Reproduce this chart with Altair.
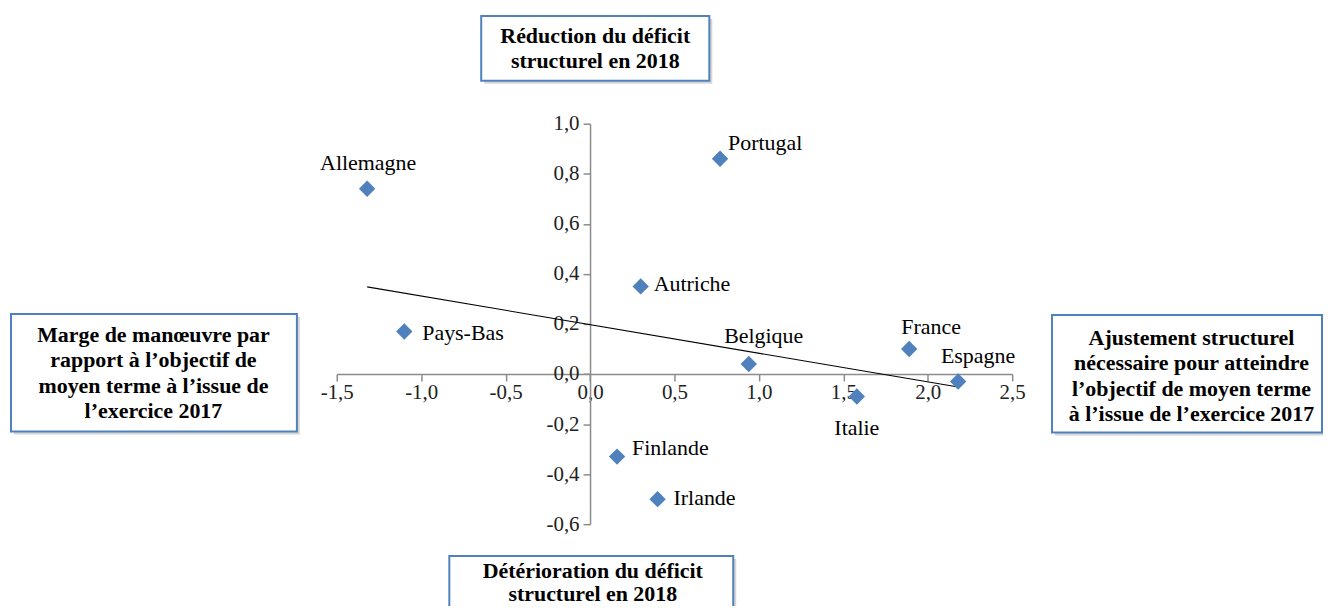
import altair as alt
import pandas as pd

# ---- data ----
countries = ["Allemagne", "Portugal", "Autriche", "Pays-Bas", "Belgique",
             "France", "Espagne", "Italie", "Finlande", "Irlande"]
x_vals = [-1.32, 0.77, 0.30, -1.10, 0.94, 1.89, 2.18, 1.58, 0.16, 0.40]
y_vals = [0.74, 0.86, 0.35, 0.17, 0.04, 0.10, -0.03, -0.09, -0.33, -0.50]

x_ticks = [-1.5, -1.0, -0.5, 0.0, 0.5, 1.0, 1.5, 2.0, 2.5]
y_ticks = [-0.6, -0.4, -0.2, 0.0, 0.2, 0.4, 0.6, 0.8, 1.0]

box_top = ["Réduction du déficit", "structurel en 2018"]
box_bottom = ["Détérioration du déficit", "structurel en 2018"]
box_left = ["Marge de manœuvre par", "rapport à l’objectif de",
            "moyen terme à l’issue de", "l’exercice 2017"]
box_right = ["Ajustement structurel", "nécessaire pour atteindre",
             "l’objectif de moyen terme", "à l’issue de l’exercice 2017"]

df = pd.DataFrame({"pays": countries, "x": x_vals, "y": y_vals})

# ---- layout / style ----
W, H = 678, 402
FONT = "Liberation Serif"
BLUE = "#4F81BD"
AXIS_GREY = "#8C8C8C"
X_DOM = [x_ticks[0], x_ticks[-1]]
Y_DOM = [y_ticks[0], y_ticks[-1]]

fmt = "(datum.value < 0 ? '-' : '') + replace(format(abs(datum.value), '.1f'), '.', ',')"

xscale = alt.Scale(domain=X_DOM, nice=False, zero=False)
yscale = alt.Scale(domain=Y_DOM, nice=False, zero=False)

x_off = -W * (0 - X_DOM[0]) / (X_DOM[1] - X_DOM[0])
y_off = -H * (0 - Y_DOM[0]) / (Y_DOM[1] - Y_DOM[0])

x_axis = alt.Axis(values=x_ticks, labelExpr=fmt, offset=y_off, grid=False,
                  domainColor=AXIS_GREY, domainWidth=1.5, tickColor=AXIS_GREY,
                  tickWidth=1.5, tickSize=7, labelFont=FONT, labelFontSize=21,
                  labelColor="#222222", labelPadding=1, labelFlush=False,
                  labelOverlap=False, title=None)
y_axis = alt.Axis(values=y_ticks, labelExpr=fmt, offset=x_off, grid=False,
                  domainColor=AXIS_GREY, domainWidth=1.5, tickColor=AXIS_GREY,
                  tickWidth=1.5, tickSize=7, labelFont=FONT, labelFontSize=21,
                  labelColor="#222222", labelPadding=4, labelFlush=False,
                  labelOverlap=False, title=None)

base = alt.Chart(df)

X = alt.X("x:Q", scale=xscale, axis=x_axis)
Y = alt.Y("y:Q", scale=yscale, axis=y_axis)

trend = base.transform_regression("x", "y").mark_line(
    color="black", strokeWidth=1.1).encode(x=X, y=Y)

points = base.mark_point(shape="diamond", filled=True, size=270, color=BLUE,
                         opacity=1).encode(x=X, y=Y)

# label placement (align, dx, dy) for each country
label_pos = {
    "Allemagne": ("center", 1, -26),
    "Portugal": ("left", 8, -16),
    "Autriche": ("left", 13, -2),
    "Pays-Bas": ("left", 18, 2),
    "Belgique": ("center", 15, -28),
    "France": ("center", 22, -22),
    "Espagne": ("center", 20, -26),
    "Italie": ("center", 0, 32),
    "Finlande": ("left", 15, -9),
    "Irlande": ("left", 16, -1),
}

label_layers = []
for name in countries:
    al, dx, dy = label_pos[name]
    label_layers.append(
        base.transform_filter(alt.datum.pays == name).mark_text(
            align=al, baseline="middle", dx=dx, dy=dy, font=FONT,
            fontSize=22, color="black").encode(x=X, y=Y, text="pays:N")
    )

one = pd.DataFrame({"k": [0]})


def box(x1, x2, y1, y2, lines, cx, cy_first, lh=25.5):
    shadow = alt.Chart(one).mark_rect(fill="#BBBBBB", opacity=0.6).encode(
        x=alt.value(x1 + 3), x2=alt.value(x2 + 3),
        y=alt.value(y1 + 3), y2=alt.value(y2 + 3))
    rect = alt.Chart(one).mark_rect(fill="white", stroke=BLUE,
                                   strokeWidth=2).encode(
        x=alt.value(x1), x2=alt.value(x2), y=alt.value(y1), y2=alt.value(y2))
    txt = alt.Chart(one).mark_text(
        font=FONT, fontSize=22, fontWeight="bold", color="black",
        align="center", baseline="middle", lineHeight=lh).encode(
        x=alt.value(cx), y=alt.value(cy_first), text=alt.value(lines))
    return [shadow, rect, txt]


boxes = []
boxes += box(145, 374, -108, -43, box_top, 259.5, -88, 25)
boxes += box(-327, -40, 191, 309, box_left, -184, 212)
boxes += box(718, 989, 192, 310, box_right, 858, 215)
boxes += box(113, 398, 434, 520, box_bottom, 257, 449, 23)

chart = alt.layer(trend, points, *label_layers, *boxes).properties(
    width=W, height=H,
    background="white",
    autosize=alt.AutoSizeParams(type="none"),
    padding={"left": 330, "top": 115, "right": 312, "bottom": 81},
).configure_view(stroke=None)

chart.save("out.html", embed_options={"renderer": "svg", "actions": False})
